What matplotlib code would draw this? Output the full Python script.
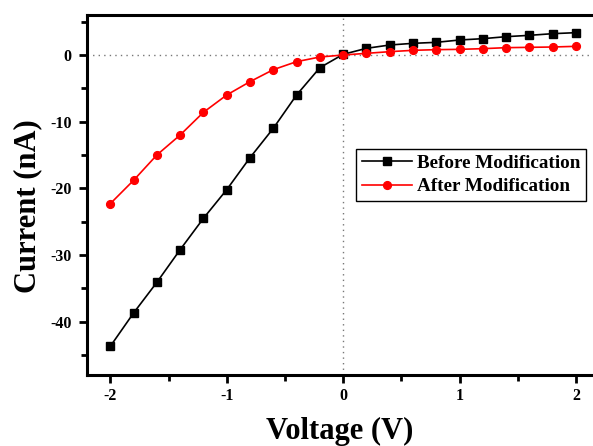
import matplotlib
matplotlib.use("Agg")
import matplotlib.pyplot as plt
from matplotlib.ticker import MultipleLocator

voltage = [-2.0, -1.8, -1.6, -1.4, -1.2, -1.0, -0.8, -0.6, -0.4, -0.2, 0.0,
           0.2, 0.4, 0.6, 0.8, 1.0, 1.2, 1.4, 1.6, 1.8, 2.0]
before = [-43.7, -38.7, -34.1, -29.2, -24.5, -20.2, -15.4, -11.0, -6.0, -1.9, 0.1,
          1.0, 1.5, 1.75, 1.9, 2.25, 2.45, 2.75, 2.95, 3.2, 3.35]
after = [-22.3, -18.8, -15.0, -12.0, -8.6, -6.0, -4.0, -2.2, -1.0, -0.3, 0.0,
         0.25, 0.5, 0.7, 0.8, 0.85, 0.95, 1.1, 1.15, 1.2, 1.3]

plt.rcParams['font.family'] = ['Liberation Serif', 'DejaVu Serif']
plt.rcParams['font.weight'] = 'bold'
plt.rcParams['axes.unicode_minus'] = False

fig = plt.figure(figsize=(5.93, 4.46), dpi=100)
ax = fig.add_axes([87/593, 71/446, 506/593, 360/446])

ax.axhline(0, color='#777777', lw=1.0, ls=(0, (1, 3)), zorder=1)
ax.axvline(0, color='#777777', lw=1.0, ls=(0, (1, 3)), zorder=1)

ax.plot(voltage, before, color='black', lw=1.2, marker='s', ms=5.2,
        label='Before Modification', zorder=3)
ax.plot(voltage, after, color='red', lw=1.2, marker='o', ms=5.6,
        label='After Modification', zorder=3)

ax.set_xlim(-2.2, 2.146)
ax.set_ylim(-48, 6)
ax.xaxis.set_major_locator(MultipleLocator(1))
ax.xaxis.set_minor_locator(MultipleLocator(0.5))
ax.yaxis.set_major_locator(MultipleLocator(10))
ax.yaxis.set_minor_locator(MultipleLocator(5))

for s in ['left', 'bottom', 'top']:
    ax.spines[s].set_linewidth(2.2)
ax.spines['right'].set_visible(False)
ax.tick_params(which='major', direction='out', length=6, width=2, labelsize=11.5,
               top=False, right=False)
ax.tick_params(axis='y', which='major', pad=5)
ax.tick_params(which='minor', direction='out', length=4, width=2,
               top=False, right=False)
for lbl in ax.get_xticklabels() + ax.get_yticklabels():
    lbl.set_fontweight('bold')

ax.set_xlabel('Voltage (V)', fontsize=22, fontweight='bold', labelpad=9)
ax.set_ylabel('Current (nA)', fontsize=22, fontweight='bold', labelpad=6)
ax.yaxis.label.set_y(0.47)

leg = ax.legend(loc='upper left', bbox_to_anchor=((356-87)/506, (375-149)/360),
                frameon=True, fancybox=False, edgecolor='black', framealpha=1,
                prop={'family': 'Liberation Serif', 'weight': 'bold', 'size': 13.8},
                handlelength=2.6, borderpad=0.3, labelspacing=0.3,
                handletextpad=0.3, borderaxespad=0)
leg.get_frame().set_linewidth(1.0)

fig.savefig('out.png', dpi=100)
